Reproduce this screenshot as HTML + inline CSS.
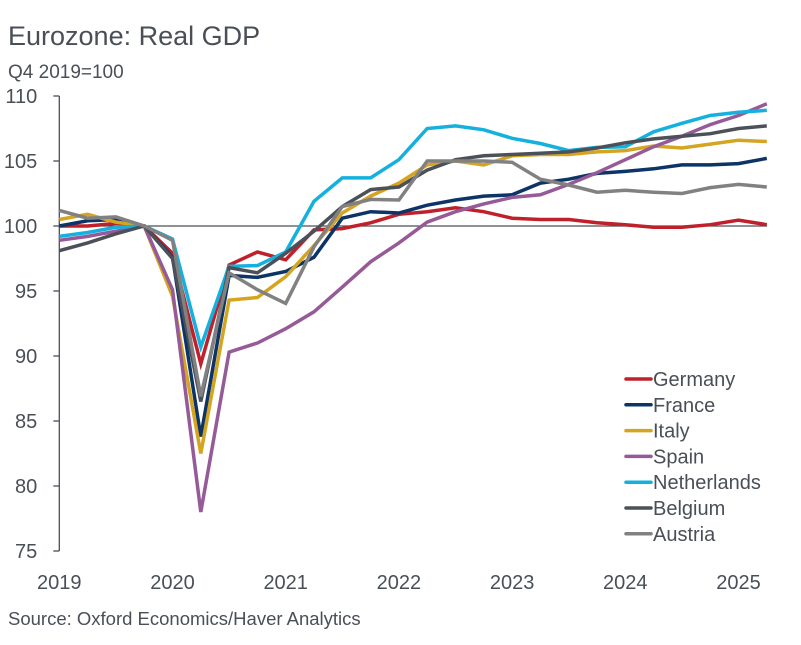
<!DOCTYPE html>
<html><head><meta charset="utf-8"><style>
body{margin:0;background:#fff;font-family:"Liberation Sans",sans-serif;}
#wrap{position:relative;width:801px;height:645px;overflow:hidden;}
</style></head><body>
<div id="wrap">
<svg id="chart" width="801" height="645" xmlns="http://www.w3.org/2000/svg">
<text x="8" y="45" font-size="27" fill="#4a4f57">Eurozone: Real GDP</text>
<text x="8" y="78" font-size="19" fill="#4a4f57">Q4 2019=100</text>
<text x="8" y="625" font-size="18.5" fill="#4a4f57">Source: Oxford Economics/Haver Analytics</text>
<g id="axes"></g><g id="series"></g><g id="legend"></g>
</svg>
</div>
<script>
const yTicks=[75,80,85,90,95,100,105,110];
const xYears=[2019,2020,2021,2022,2023,2024,2025];
const seriesNames=["Germany","France","Italy","Spain","Netherlands","Belgium","Austria"];
const seriesColors=["#c0202a","#0d3466","#d5a522","#955a97","#14b0de","#4b5059","#818181"];
const germany=[100,100,100.2,100,97.9,89.4,97.0,98.0,97.4,99.7,99.8,100.25,100.9,101.1,101.4,101.1,100.6,100.5,100.5,100.25,100.1,99.9,99.9,100.1,100.45,100.1];
const france=[100,100.4,100.5,100,97.6,83.8,96.2,96.05,96.5,97.6,100.6,101.1,101.0,101.6,102.0,102.3,102.4,103.3,103.6,104.05,104.2,104.4,104.7,104.7,104.8,105.2];
const italy=[100.5,100.9,100.3,100,94.6,82.5,94.3,94.5,96.1,98.5,101.0,102.3,103.3,104.7,105.0,104.7,105.4,105.5,105.5,105.7,105.8,106.15,106.0,106.3,106.6,106.5];
const spain=[98.9,99.2,99.6,100,95.1,78.0,90.3,91.0,92.1,93.4,95.3,97.25,98.7,100.3,101.1,101.7,102.2,102.4,103.2,104.1,105.1,106.1,106.9,107.8,108.5,109.4];
const netherlands=[99.2,99.5,99.9,100,99.0,90.7,96.9,96.95,98.0,101.9,103.7,103.7,105.1,107.5,107.7,107.4,106.75,106.35,105.8,106.05,106.1,107.25,107.9,108.5,108.75,108.9];
const belgium=[98.1,98.7,99.4,100,97.5,86.5,96.8,96.4,97.9,99.6,101.5,102.8,103.0,104.3,105.1,105.4,105.5,105.6,105.7,106.0,106.4,106.7,106.9,107.1,107.5,107.7];
const austria=[101.2,100.6,100.7,100,98.9,86.9,96.4,95.1,94.05,98.4,101.5,102.05,102.0,105.0,105.0,105.0,104.9,103.6,103.15,102.6,102.75,102.6,102.5,102.95,103.2,103.0];
const allSeries=[germany,france,italy,spain,netherlands,belgium,austria];

const NS="http://www.w3.org/2000/svg";
const x0=59.3, pxPerYear=113.2, yBase=226, pxPerUnit=13;
function xScale(t){return x0+(t-2019)*pxPerYear;}
function yScale(v){return yBase-(v-100)*pxPerUnit;}
function qx(i){return xScale(2019+i*0.25);}
function mk(tag,attrs,parent){const e=document.createElementNS(NS,tag);for(const k in attrs)e.setAttribute(k,attrs[k]);parent.appendChild(e);return e;}
const axes=document.getElementById('axes');
let yAxis=mk('line',{x1:x0,y1:yScale(110),x2:x0,y2:yScale(75),stroke:'#4a4f57','stroke-width':1.3},axes);


yTicks.forEach(v=>{
  let t=mk('line',{x1:x0-6,y1:yScale(v),x2:x0,y2:yScale(v),stroke:'#4a4f57','stroke-width':1.3},axes);
  
  
  let l=mk('text',{x:x0-22,y:yScale(v)+7,'font-size':20,fill:'#4a4f57','text-anchor':'end'},axes);
  l.textContent=v;
  
  
});
let base=mk('line',{x1:x0,y1:yScale(100),x2:767,y2:yScale(100),stroke:'#4a4f57','stroke-width':1.2},axes);


xYears.forEach(yr=>{
  let l=mk('text',{x:xScale(yr),y:589,'font-size':20,fill:'#4a4f57','text-anchor':'middle'},axes);
  l.textContent=yr;
  
  
});
const sg=document.getElementById('series');
allSeries.forEach((arr,si)=>{
  const pts=arr.map((v,i)=>qx(i).toFixed(1)+','+yScale(v).toFixed(1)).join(' ');
  let p=mk('polyline',{points:pts,fill:'none',stroke:seriesColors[si],'stroke-width':3.5,'stroke-linejoin':'miter'},sg);
  
  
});
const lg=document.getElementById('legend');
seriesNames.forEach((n,i)=>{
  const y=379+i*25.8;
  let ln=mk('line',{x1:626,y1:y,x2:651,y2:y,stroke:seriesColors[i],'stroke-width':3.5,'stroke-linecap':'round'},lg);
  
  
  let t=mk('text',{x:653,y:y+7,'font-size':20,fill:'#4a4f57'},lg);
  t.textContent=n;
  
  
});
</script>
</body></html>
